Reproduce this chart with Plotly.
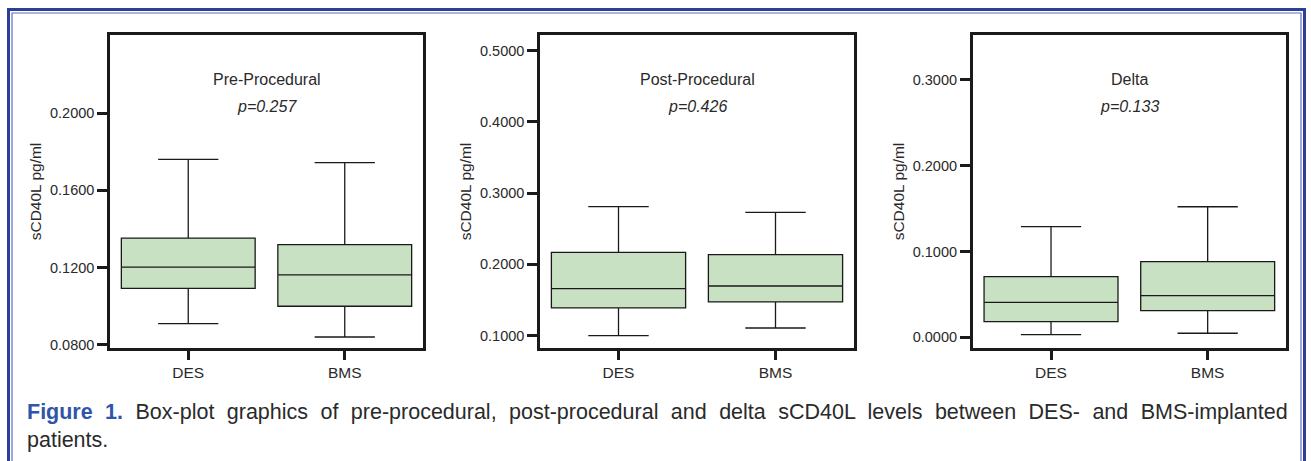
import plotly.graph_objects as go

W, H = 1311, 461

groups = ["DES", "BMS"]
panel_titles = ["Pre-Procedural", "Post-Procedural", "Delta"]
p_values = ["p=0.257", "p=0.426", "p=0.133"]

# box statistics per panel: [DES, BMS]
pre_low = [0.0910, 0.0841]
pre_q1 = [0.1093, 0.1000]
pre_med = [0.1203, 0.1162]
pre_q3 = [0.1353, 0.1319]
pre_high = [0.1760, 0.1743]

post_low = [0.1000, 0.1108]
post_q1 = [0.1390, 0.1473]
post_med = [0.1660, 0.1697]
post_q3 = [0.2170, 0.2137]
post_high = [0.2810, 0.2730]

delta_low = [0.0030, 0.0047]
delta_q1 = [0.0182, 0.0310]
delta_med = [0.0408, 0.0485]
delta_q3 = [0.0706, 0.0881]
delta_high = [0.1289, 0.1522]

y_ticks = [
    [0.08, 0.12, 0.16, 0.20],
    [0.1, 0.2, 0.3, 0.4, 0.5],
    [0.0, 0.1, 0.2, 0.3],
]
y_ranges = [[0.0784, 0.2404], [0.0827, 0.522], [-0.0125, 0.3524]]

caption_l1 = "Box-plot graphics of pre-procedural, post-procedural and delta sCD40L levels between DES- and BMS-implanted"
caption_l2 = "patients."

stats = [
    (pre_low, pre_q1, pre_med, pre_q3, pre_high),
    (post_low, post_q1, post_med, post_q3, post_high),
    (delta_low, delta_q1, delta_med, delta_q3, delta_high),
]

px_domains = [(110, 423), (540, 854), (972.7, 1286)]
top_px, bot_px = 35, 348

fig = go.Figure()
FONT = "Liberation Sans, Arial, sans-serif"
TXT = "#2a2a2a"

for i, (lo, q1, med, q3, hi) in enumerate(stats):
    ax = "" if i == 0 else str(i + 1)
    fig.add_trace(go.Box(
        x=groups, q1=q1, median=med, q3=q3, lowerfence=lo, upperfence=hi,
        fillcolor="#c8e1c2", line=dict(color="#1a1a1a", width=1.3),
        width=0.855, whiskerwidth=0.45, boxpoints=False, hoverinfo="skip",
        xaxis="x" + ax, yaxis="y" + ax, showlegend=False,
    ))
    xd = [px_domains[i][0] / W, px_domains[i][1] / W]
    yd = [1 - bot_px / H, 1 - top_px / H]
    fig.update_layout(**{
        "xaxis" + ax: dict(
            domain=xd, anchor="y" + ax, type="category", range=[-0.5, 1.5],
            showline=True, linecolor="#1a1a1a", linewidth=2.5, mirror=True,
            ticks="outside", ticklen=9, tickwidth=3, tickcolor="#1a1a1a",
            tickfont=dict(family=FONT, size=15.5, color=TXT), showgrid=False,
            zeroline=False, fixedrange=True, automargin=False,
        ),
        "yaxis" + ax: dict(
            domain=yd, anchor="x" + ax, range=y_ranges[i],
            tickvals=y_ticks[i], tickformat=".4f",
            showline=True, linecolor="#1a1a1a", linewidth=2.5, mirror=True,
            ticks="outside", ticklen=10, tickwidth=3, tickcolor="#1a1a1a",
            tickfont=dict(family=FONT, size=14.5, color=TXT), showgrid=False,
            zeroline=False, fixedrange=True, automargin=False,
            title=dict(text="sCD40L pg/ml", font=dict(family=FONT, size=15.5, color=TXT), standoff=5),
        ),
    })
    fig.add_annotation(text=panel_titles[i], xref="x" + ax + " domain", yref="paper",
                       x=0.5, y=1 - 79 / H, showarrow=False, xanchor="center", yanchor="middle",
                       font=dict(family=FONT, size=16, color=TXT))
    fig.add_annotation(text="<i>" + p_values[i] + "</i>", xref="x" + ax + " domain", yref="paper",
                       x=0.5, y=1 - 106 / H, showarrow=False, xanchor="center", yanchor="middle",
                       font=dict(family=FONT, size=16, color=TXT))

# caption
fig.add_annotation(
    text="<span style='word-spacing:6.45px'><b><span style='color:#2e55a8'>Figure 1.</span></b> "
         + caption_l1 + "</span>",
    xref="paper", yref="paper", x=25 / W, y=1 - 412 / H, xanchor="left", yanchor="middle",
    showarrow=False, font=dict(family=FONT, size=21.5, color=TXT))
fig.add_annotation(
    text=caption_l2, xref="paper", yref="paper", x=25 / W, y=1 - 440 / H,
    xanchor="left", yanchor="middle", showarrow=False,
    font=dict(family=FONT, size=21.5, color=TXT))

# double blue frame
fig.add_shape(type="path", xref="paper", yref="paper",
              path=f"M {8.5/W} 0 L {8.5/W} {1-9.5/H} L {1304.5/W} {1-9.5/H} L {1304.5/W} 0",
              line=dict(color="#2b3f96", width=3))
fig.add_shape(type="path", xref="paper", yref="paper",
              path=f"M {12/W} 0 L {12/W} {1-13/H} L {1301/W} {1-13/H} L {1301/W} 0",
              line=dict(color="#5a70c0", width=1.2))

fig.update_layout(width=W, height=H, margin=dict(l=0, r=0, t=0, b=0),
                  paper_bgcolor="white", plot_bgcolor="white")

fig.write_html("out.html", config={"displayModeBar": False},
               post_script="document.body.style.margin='0';document.body.style.overflow='hidden';")
